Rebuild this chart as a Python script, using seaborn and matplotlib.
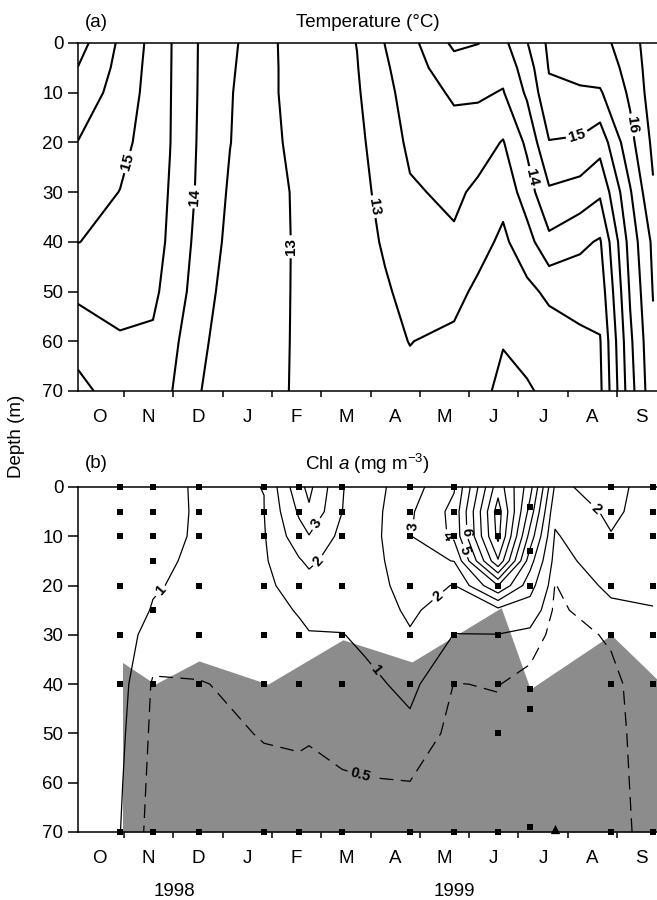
import numpy as np
import pandas as pd
import matplotlib
matplotlib.use("Agg")
import matplotlib.pyplot as plt
import seaborn as sns

sns.set_theme(style="ticks")
plt.rcParams['font.family'] = ['Liberation Sans', 'DejaVu Sans']
plt.rcParams['mathtext.fontset'] = 'custom'
plt.rcParams['mathtext.rm'] = 'Liberation Sans'
plt.rcParams['mathtext.it'] = 'Liberation Sans:italic'
plt.rcParams['lines.dashed_pattern'] = [11, 6]
plt.rcParams.update({'axes.edgecolor': 'black', 'text.color': 'black',
                     'xtick.color': 'black', 'ytick.color': 'black',
                     'axes.labelcolor': 'black'})

#time axis in months from 1 Oct 1998 (1 = 1 Nov 1998 ... 11 = 1 Sep 1999)
MONTH_NAMES = ['O', 'N', 'D', 'J', 'F', 'M', 'A', 'M', 'J', 'J', 'A', 'S']

#temperature grid (degC)
temp_month = [0.067, 0.919, 1.588, 1.933, 2.521, 3.150, 3.840, 4.428, 5.178, 5.726, 6.294,
              6.801, 7.694, 8.181, 8.688, 9.174, 9.621, 10.249, 10.655, 11.264, 11.730]
temp_depth = [0, 5, 10, 20, 30, 40, 50, 60, 70]
temp_00 = [16.2, 15.42, 14.85, 14.53, 13.98, 13.6, 13.19, 12.79, 12.8, 13.01, 13.51, 13.85, 14.6, 14.51, 14.37, 14.98, 15.6, 15.72, 15.88, 16.2, 16.89]
temp_05 = [15.99, 15.36, 14.82, 14.525, 13.975, 13.56, 13.2, 12.8, 12.81, 12.98, 13.43, 13.78, 14.3, 14.3, 14.15, 14.75, 15.53, 15.62, 15.72, 16.15, 16.8]
temp_10 = [15.8, 15.3, 14.8, 14.52, 13.97, 13.53, 13.2, 12.8, 12.82, 12.95, 13.35, 13.72, 14.07, 14.07, 13.97, 14.58, 15.4, 15.45, 15.45, 16.08, 16.75]
temp_20 = [15.49, 15.15, 14.76, 14.51, 13.95, 13.51, 13.18, 12.9, 12.85, 12.9, 13.22, 13.6, 13.8, 13.72, 13.47, 14.1, 14.98, 14.93, 14.7, 15.85, 16.6]
temp_30 = [15.25, 14.99, 14.72, 14.47, 13.92, 13.44, 13.15, 12.98, 12.87, 12.87, 13.12, 13.44, 13.6, 13.4, 13.15, 13.75, 14.43, 14.3, 14.08, 15.45, 16.45]
temp_40 = [15.01, 14.85, 14.65, 14.44, 13.84, 13.38, 13.12, 12.99, 12.88, 12.85, 13.04, 13.25, 13.43, 13.18, 12.9, 13.3, 13.88, 13.6, 13.45, 15.2, 16.1]
temp_50 = [14.6, 14.68, 14.58, 14.36, 13.74, 13.3, 13.1, 12.99, 12.89, 12.84, 12.96, 13.1, 13.15, 12.9, 12.7, 12.88, 13.1, 13.2, 13.2, 15.05, 16.02]
temp_60 = [14.2, 14.45, 14.44, 14.16, 13.63, 13.22, 13.08, 12.99, 12.9, 12.83, 12.9, 13.01, 12.9, 12.75, 12.52, 12.65, 12.75, 12.9, 12.97, 14.9, 15.92]
temp_70 = [13.85, 14.25, 14.3, 14.04, 13.53, 13.15, 13.06, 12.99, 12.9, 12.82, 12.85, 12.9, 12.75, 12.62, 12.4, 12.45, 12.6, 12.75, 12.9, 14.8, 15.85]

#chl a grid (mg m-3)
chl_month = [0.919, 1.588, 2.521, 3.840, 4.550, 4.753, 5.422, 5.888, 6.801, 7.694,
             8.586, 9.235, 9.742, 10.878, 11.730]
chl_depth = [0, 5, 10, 15, 20, 25, 30, 40, 50, 60, 70]
chl_00 = [1.5, 1.25, 0.92, 1.005, 3.7, 4.25, 2.05, 1.5, 2.55, 3.9, 9.6, 6.4, 1.85, 2.3, 1.6]
chl_05 = [1.5, 1.25, 0.93, 0.99, 3.15, 3.85, 2.01, 1.45, 2.85, 4.3, 10.5, 5.6, 1.25, 2.2, 1.55]
chl_10 = [1.5, 1.2, 0.93, 0.93, 2.6, 2.95, 1.72, 1.45, 2.95, 4.2, 10.3, 4.6, 0.9, 1.95, 1.45]
chl_15 = [1.45, 1.12, 0.9, 0.88, 1.9, 2.2, 1.5, 1.42, 2.75, 3.02, 8.9, 3.4, 0.68, 1.5, 1.35]
chl_20 = [1.4, 1.05, 0.86, 0.82, 1.35, 1.6, 1.35, 1.38, 2.5, 1.95, 5.0, 2.4, 0.48, 1.15, 1.15]
chl_25 = [1.35, 0.96, 0.8, 0.76, 1.05, 1.25, 1.2, 1.28, 2.2, 1.4, 1.7, 1.5, 0.38, 0.85, 0.97]
chl_30 = [1.3, 0.75, 0.7, 0.7, 0.88, 0.95, 0.98, 1.12, 1.9, 0.98, 0.98, 0.8, 0.32, 0.55, 0.85]
chl_40 = [1.2, 0.45, 0.48, 0.6, 0.72, 0.75, 0.75, 0.85, 1.15, 0.49, 0.52, 0.3, 0.28, 0.4, 0.75]
chl_50 = [1.12, 0.4, 0.4, 0.52, 0.53, 0.52, 0.58, 0.65, 0.85, 0.35, 0.4, 0.28, 0.26, 0.35, 0.75]
chl_60 = [1.06, 0.35, 0.35, 0.42, 0.45, 0.44, 0.47, 0.48, 0.49, 0.3, 0.35, 0.27, 0.25, 0.33, 0.72]
chl_70 = [1.01, 0.3, 0.3, 0.35, 0.38, 0.4, 0.42, 0.4, 0.4, 0.28, 0.3, 0.27, 0.25, 0.3, 0.7]

#euphotic depth (grey area)
zeu_month = [0.97, 1.63, 2.52, 3.92, 5.44, 6.84, 8.65, 9.24, 10.88, 11.81]
zeu_depth = [35.6, 40, 35.3, 40, 31, 35.5, 24.5, 41, 30, 39]

#sampling dates and depths
samp_month = [0.919, 1.588, 2.521, 3.840, 4.550, 5.422, 6.801, 7.694, 8.586, 9.235, 10.878, 11.730]
samp_depths = [[0, 5, 10, 20, 30, 40, 70], [0, 5, 10, 15, 25, 40, 70], [0, 5, 10, 20, 30, 40, 70],
               [0, 5, 10, 20, 30, 40, 70], [0, 5, 10, 20, 30, 40, 70], [0, 5, 10, 20, 30, 40, 70],
               [0, 5, 10, 20, 30, 40, 70], [0, 5, 10, 20, 30, 40, 70], [5, 10, 20, 30, 40, 50, 70],
               [4, 13, 20, 41, 45, 69], [0, 5, 10, 20, 30, 40, 70], [0, 5, 10, 20, 30, 40, 70]]
extra_month = [9.742]
extra_depth = [69.5]

#labelled and unlabelled contour levels
temp_lab_levels = [13, 14, 15, 16]
temp_other_levels = [12.5, 13.5, 14.5, 15.5, 16.5]
chl_lab_levels = [0.5, 1, 2, 3, 4, 5, 6]
chl_other_levels = [7, 8, 9, 10]

#contour label spots (month, depth)
temp_spots = [(4.40, 41), (6.03, 33), (2.46, 31), (9.28, 27), (1.08, 24), (10.19, 18.6), (11.30, 16.5)]
chl_spots = [(5.79, 58.5), (1.73, 21), (5.99, 38), (4.94, 15), (7.27, 21), (10.51, 5),
             (4.98, 8), (6.86, 8), (7.45, 10.8), (7.92, 12.9), (8.32, 9)]

FS = 13.5
fmt = lambda v: f"{v:g}"

fig = plt.figure(figsize=(6.57, 9.0), dpi=100)
ax1 = fig.add_axes([0.1187, 0.5656, 0.8813, 0.3867])
ax2 = fig.add_axes([0.1187, 0.0756, 0.8813, 0.3833])

for ax in (ax1, ax2):
  ax.set_xlim(0.067, 11.81)
  ax.set_ylim(70, 0)
  ax.set_yticks(range(0, 71, 10))
  ax.set_xticks(range(1, 12))
  ax.set_xticklabels([])
  ax.set_xticks(np.arange(12) + 0.5, minor=True)
  ax.set_xticklabels(MONTH_NAMES, minor=True)
  ax.tick_params(axis='x', which='major', direction='out', length=4.3, width=1.1)
  ax.tick_params(axis='x', which='minor', length=0, pad=13, labelsize=FS)
  ax.tick_params(axis='y', direction='out', length=7, width=1.1, pad=3.5, labelsize=FS)
  ax.spines['right'].set_visible(False)
  for s in ('left', 'top', 'bottom'):
    ax.spines[s].set_linewidth(1.1)
  ax.grid(False)

#panel a
T = np.array([temp_00, temp_05, temp_10, temp_20, temp_30, temp_40, temp_50, temp_60, temp_70])
ax1.contour(temp_month, temp_depth, T, levels=temp_other_levels, colors='black', linewidths=1.5)
cs1 = ax1.contour(temp_month, temp_depth, T, levels=temp_lab_levels, colors='black', linewidths=1.5)
txt = ax1.clabel(cs1, manual=temp_spots, inline=True, fmt=fmt, fontsize=11, inline_spacing=3)
for t in txt:
  t.set_fontweight('bold')
ax1.text(0.012, 1.0575, '(a)', transform=ax1.transAxes, ha='left', va='center', fontsize=FS)
ax1.text(0.5, 1.0575, 'Temperature (°C)', transform=ax1.transAxes, ha='center', va='center', fontsize=FS)

#panel b
ax2.fill_between(zeu_month, zeu_depth, 70, color='#8c8c8c', lw=0, zorder=1)
C = np.array([chl_00, chl_05, chl_10, chl_15, chl_20, chl_25, chl_30, chl_40, chl_50, chl_60, chl_70])
ax2.contour(chl_month, chl_depth, C, levels=chl_other_levels, colors='black', linewidths=0.9, zorder=2)
cs2 = ax2.contour(chl_month, chl_depth, C, levels=chl_lab_levels, colors='black', linewidths=0.9,
                  linestyles=['--'] + ['-'] * 6, zorder=2)
txt = ax2.clabel(cs2, manual=chl_spots, inline=True, fmt=fmt, fontsize=10.5, inline_spacing=3)
for t in txt:
  t.set_fontweight('bold')

samples = pd.DataFrame([(m, d) for m, ds in zip(samp_month, samp_depths) for d in ds],
                       columns=['month', 'depth'])
sns.scatterplot(data=samples, x='month', y='depth', ax=ax2, color='black', marker='s', s=18,
                linewidth=0, legend=False, zorder=4, clip_on=False)
sns.scatterplot(x=extra_month, y=extra_depth, ax=ax2, color='black', marker='^', s=45,
                linewidth=0, legend=False, zorder=4, clip_on=False)
ax2.set_xlabel('')
ax2.set_ylabel('')
ax2.text(0.012, 1.068, '(b)', transform=ax2.transAxes, ha='left', va='center', fontsize=FS)
ax2.text(0.5, 1.068, r'Chl $\it{a}$ (mg m$^{-3}$)', transform=ax2.transAxes, ha='center', va='center', fontsize=FS)

#year labels under panel b
yr = ax2.get_xaxis_transform()
ax2.text(2.02, -0.172, '1998', transform=yr, ha='center', va='center', fontsize=FS)
ax2.text(7.70, -0.172, '1999', transform=yr, ha='center', va='center', fontsize=FS)

fig.text(0.025, 0.5156, 'Depth (m)', rotation=90, ha='center', va='center', fontsize=FS)

fig.savefig('out.png', dpi=100)
